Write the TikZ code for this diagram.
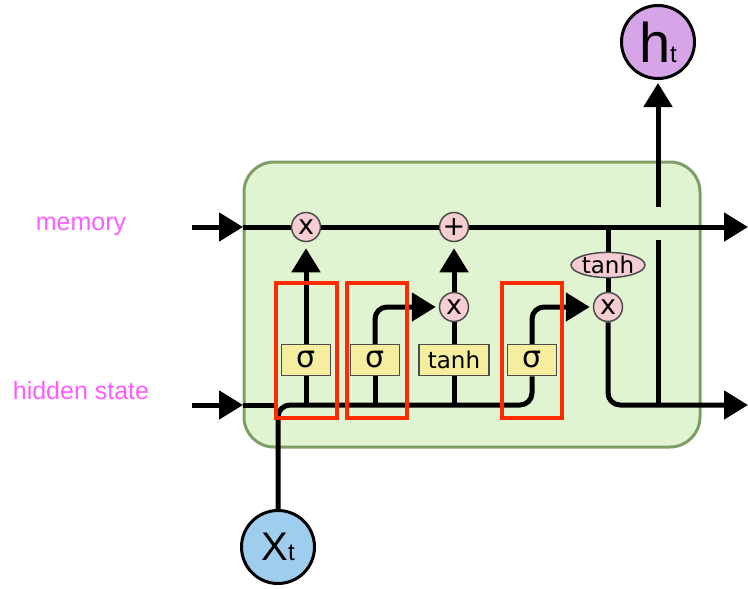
\documentclass[tikz,border=0pt]{standalone}
\usepackage{fontspec}
\setmainfont{Liberation Sans}
\newfontfamily\dejavu{DejaVu Sans}
\usetikzlibrary{arrows.meta,shapes.geometric,backgrounds}
\definecolor{cellfill}{HTML}{E0F4D2}
\definecolor{celldraw}{HTML}{7E9E66}
\definecolor{opfill}{HTML}{F5CDD2}
\definecolor{gatefill}{HTML}{F4EE9E}
\definecolor{xfill}{HTML}{9ECDEE}
\definecolor{hfill}{HTML}{D8A4E8}
\definecolor{note}{HTML}{FF5CFF}
\definecolor{mark}{HTML}{FF2A00}
\tikzset{
  cell/.style={fill=cellfill, draw=celldraw, line width=3pt, rounded corners=30pt},
  wire/.style={draw=black, line width=5pt},
  arr/.style={wire, -{Triangle[length=24pt,width=28pt]}},
  op/.style={circle, fill=opfill, draw=black!70, line width=1.5pt, minimum size=29pt, inner sep=0pt, font=\dejavu\fontsize{27}{27}\selectfont},
  gate/.style={rectangle, fill=gatefill, draw=black!70, line width=1.5pt, minimum width=49pt, minimum height=31pt, inner sep=0pt, font=\dejavu\fontsize{30}{30}\selectfont},
  gatetxt/.style={font=\dejavu\fontsize{23}{23}\selectfont},
  act/.style={ellipse, fill=opfill, draw=black!70, line width=1.5pt, minimum width=71pt, minimum height=24pt, inner sep=0pt, font=\dejavu\fontsize{23}{23}\selectfont},
  io/.style={circle, draw=black, line width=3pt, minimum size=73pt, inner sep=0pt},
  lab/.style={text=note, font=\fontsize{25}{25}\selectfont},
  hl/.style={draw=mark, line width=4pt},
}
\newcommand{\iolabel}[3]{{\fontsize{#1}{#1}\selectfont #2}{\fontsize{24}{24}\selectfont #3}}

\begin{document}
\begin{tikzpicture}[x=1pt,y=-1pt]
  \useasboundingbox (0,0) rectangle (748,589);
  \coordinate (memin) at (192,227);
  \coordinate (memL) at (243,227);
  \coordinate (memout) at (748,227);
  \coordinate (hidin) at (192,405);
  \coordinate (hidL) at (243,405);
  \coordinate (hidout) at (748,405);
  \coordinate (hjoin) at (658,407);
  \coordinate (hopB) at (658,240);
  \coordinate (hopT) at (658,207);
  \node[op] (mulf) at (306,227) {x};
  \node[op] (add) at (454,227) {+};
  \node[op] (muli) at (454,307) {x};
  \node[op] (mulo) at (608,307) {x};
  \node[gate] (sigf) at (306,360) {σ};
  \node[gate] (sigi) at (375,360) {σ};
  \node[gate,gatetxt,minimum width=70pt] (tanhc) at (454,360) {tanh};
  \node[gate] (sigo) at (532,360) {σ};
  \node[act] (tanhm) at (608,265) {tanh};
  \node[io,fill=hfill] (ht) at (658,42) {\iolabel{56}{h}{t}};
  \node[io,fill=xfill] (xt) at (278,547) {\iolabel{40}{X}{t}};
  \begin{scope}[on background layer]
    \draw[cell] (244,162) rectangle (700,447);
    \draw[arr] (memin) -- (memL);
    \draw[arr] (memL) -- (memout);
    \draw[arr] (hidin) -- (hidL);
    \draw[wire] (hidL) -- (xt |- hidL);
    \draw[wire,rounded corners=12pt] (xt) |- (sigo |- hidL) -- (sigo);
    \draw[wire] (sigf |- hidL) -- (sigf);
    \draw[wire] (sigi |- hidL) -- (sigi);
    \draw[wire] (tanhc |- hidL) -- (tanhc);
    \draw[arr,shorten >=6pt] (sigf) -- (mulf);
    \draw[arr,rounded corners=12pt,shorten >=3pt] (sigi) |- (muli);
    \draw[wire] (tanhc) -- (muli);
    \draw[arr,shorten >=6pt] (muli) -- (add);
    \draw[arr,rounded corners=12pt,shorten >=3pt] (sigo) |- (mulo);
    \draw[wire] (tanhm |- memL) -- (tanhm) -- (mulo);
    \draw[arr,rounded corners=12pt] (mulo) |- (hidout);
    \draw[wire] (hjoin) -- (hopB);
    \draw[arr,shorten >=3pt] (hopT) -- (ht);
  \end{scope}
  \draw[hl] (276,283) rectangle (337,418);
  \draw[hl] (347,283) rectangle (407,418);
  \draw[hl] (502,283) rectangle (562,418);
  \node[lab] (memlab) at (81,226) {memory};
  \node[lab] (hidlab) at (81,391) {hidden state};
\end{tikzpicture}
\end{document}
